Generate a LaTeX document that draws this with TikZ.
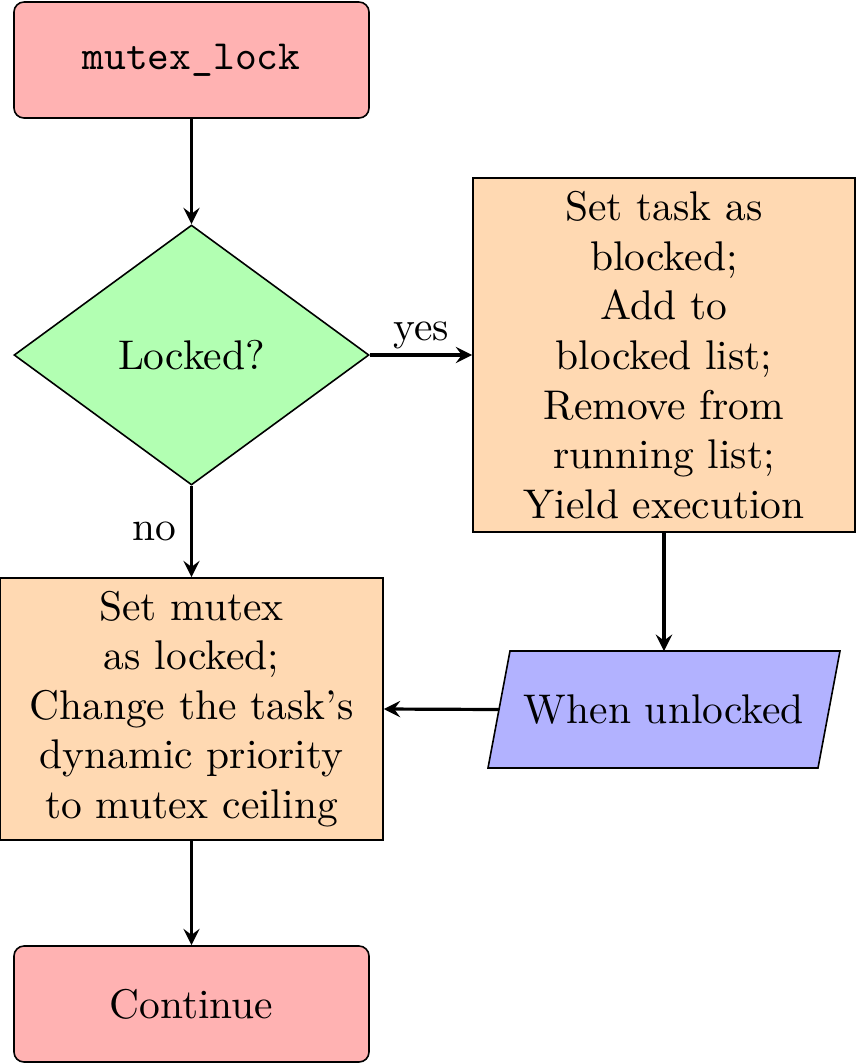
\documentclass[tikz,border=0pt]{standalone}
\usetikzlibrary{shapes.geometric,arrows,backgrounds,calc}
\begin{document}
\begin{tikzpicture}[x=0.25pt,y=-0.25pt,
  every node/.style={font=\fontsize{10.37}{12.4}\selectfont},
  startstop/.style={rectangle, rounded corners=2.5pt, draw, fill=red!30, minimum width=88.75pt, minimum height=29pt, inner sep=0pt},
  decision/.style={diamond, draw, fill=green!30, minimum width=88.75pt, minimum height=65pt, inner sep=0pt},
  process/.style={rectangle, draw, fill=orange!30, align=center, inner sep=0pt},
  io/.style={rectangle, minimum width=82.5pt, minimum height=29.25pt, inner sep=0pt, outer sep=0pt},
  iofill/.style={draw, fill=blue!30},
  arrow/.style={thick, ->, >=stealth},
  lbl/.style={inner sep=1pt}]
\useasboundingbox (0,0) rectangle (856,1064);
\node[startstop] (start) at (191.5,60) {\texttt{mutex\_lock}};
\node[decision] (dec) at (191.5,355) {Locked?};
\node[process, minimum width=95.5pt, minimum height=88.5pt] (blk) at (664,355)
  {Set task as\\blocked;\\Add to\\blocked list;\\Remove from\\running list;\\Yield execution};
\node[process, minimum width=95.75pt, minimum height=65.5pt] (lock) at (191.5,709)
  {Set mutex\\as locked;\\Change the task's\\dynamic priority\\to mutex ceiling};
\node[io] (unl) at (664,709.5) {When unlocked};
\begin{scope}[on background layer]
\draw[iofill] ($(unl.south west)+(-11,0)$) -- ($(unl.north west)+(11,0)$) -- ($(unl.north east)+(11,0)$) -- ($(unl.south east)+(-11,0)$) -- cycle;
\end{scope}
\node[startstop] (cont) at (191.5,1004) {Continue};
\draw[arrow] (start) -- (dec);
\draw[arrow] (dec.east) -- node[above, lbl] {yes} (blk.west);
\draw[arrow] (dec.south) -- node[left, lbl, xshift=-2.5pt] {no} (lock.north);
\draw[arrow] (blk.south) -- (unl.north);
\draw[arrow] (unl.west) -- (lock.east);
\draw[arrow] (lock) -- (cont);
\end{tikzpicture}
\end{document}
